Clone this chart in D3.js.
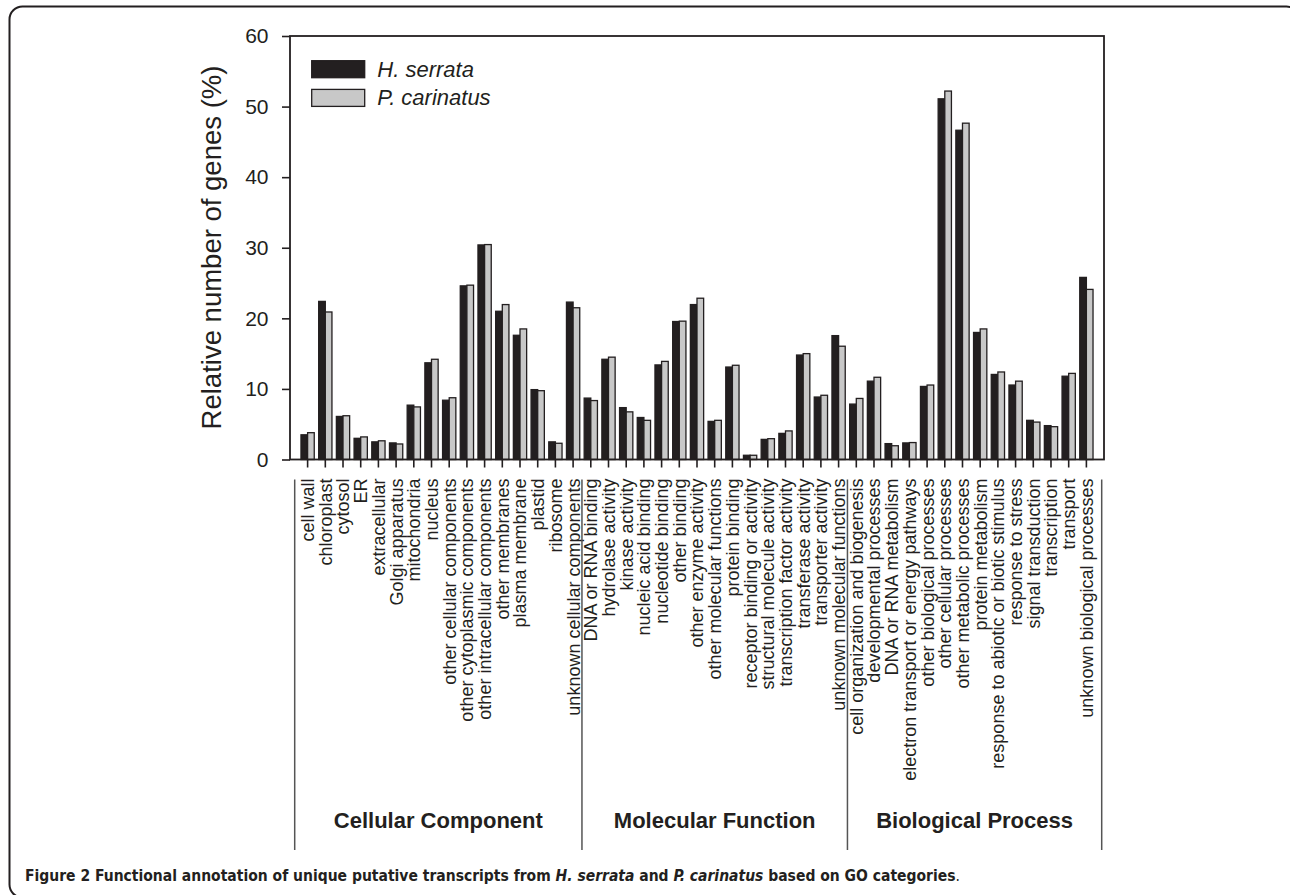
<!DOCTYPE html>
<meta charset="utf-8">
<style>
body { margin: 0; background: #fff; }
text { font-family: "Liberation Sans", Arial, Helvetica, sans-serif; fill: #231f20; }
.axis .domain { display: none; }
.axis line { stroke: #231f20; stroke-width: 1.6; }
</style>
<svg width="1290" height="895"></svg>
<script src="https://d3js.org/d3.v7.min.js"></script>
<script>

// GO categories, one list per group
var groups = ["Cellular Component", "Molecular Function", "Biological Process"];
var ccCats = ["cell wall", "chloroplast", "cytosol", "ER", "extracellular", "Golgi apparatus",
  "mitochondria", "nucleus", "other cellular components", "other cytoplasmic components",
  "other intracellular components", "other membranes", "plasma membrane", "plastid",
  "ribosome", "unknown cellular components"];
var mfCats = ["DNA or RNA binding", "hydrolase activity", "kinase activity", "nucleic acid binding",
  "nucleotide binding", "other binding", "other enzyme activity", "other molecular functions",
  "protein binding", "receptor binding or activity", "structural molecule activity",
  "transcription factor activity", "transferase activity", "transporter activity",
  "unknown molecular functions"];
var bpCats = ["cell organization and biogenesis", "developmental processes", "DNA or RNA metabolism",
  "electron transport or energy pathways", "other biological processes", "other cellular processes",
  "other metabolic processes", "protein metabolism", "response to abiotic or biotic stimulus",
  "response to stress", "signal transduction", "transcription", "transport",
  "unknown biological processes"];

// relative number of genes (%)
var hSerrata = [3.5, 22.4, 6.1, 3.0, 2.5, 2.35, 7.7, 13.7, 8.4, 24.6, 30.4, 21.0, 17.6, 9.9, 2.5, 22.3,
  8.7, 14.2, 7.35, 5.95, 13.4, 19.55, 21.95, 5.4, 13.1, 0.6, 2.85, 3.7, 14.8, 8.85, 17.55,
  7.85, 11.1, 2.25, 2.35, 10.35, 51.1, 46.65, 18.0, 12.05, 10.55, 5.55, 4.8, 11.8, 25.8];
var pCarinatus = [3.8, 20.9, 6.2, 3.2, 2.65, 2.2, 7.45, 14.2, 8.75, 24.7, 30.45, 21.95, 18.5, 9.75, 2.3, 21.5,
  8.35, 14.5, 6.75, 5.55, 13.9, 19.6, 22.85, 5.55, 13.35, 0.6, 2.95, 4.05, 15.0, 9.1, 16.05,
  8.65, 11.65, 1.95, 2.4, 10.55, 52.2, 47.65, 18.5, 12.4, 11.1, 5.3, 4.65, 12.2, 24.1];
var keys = ["H. serrata", "P. carinatus"];
var yTicks = [0, 10, 20, 30, 40, 50, 60];

var cats = ccCats.concat(mfCats, bpCats);
var groupCats = [ccCats, mfCats, bpCats];
var data = cats.map(function(c, i) { return {cat: c, values: [hSerrata[i], pCarinatus[i]]}; });

var svg = d3.select("svg"),
    margin = {top: 36, left: 290},
    width = 814,
    height = 423.5,
    g = svg.append("g").attr("transform", "translate(" + margin.left + "," + margin.top + ")");

// figure border (rounded box, partly off page)
svg.append("rect")
    .attr("x", 9.5).attr("y", 6.5)
    .attr("width", 1290).attr("height", 891)
    .attr("rx", 13)
    .attr("fill", "none")
    .attr("stroke", "#231f20")
    .attr("stroke-width", 2);

var x0 = d3.scaleBand()
    .domain(cats)
    .range([0, width])
    .paddingInner(0.25)
    .paddingOuter(0.62);

var x1 = d3.scaleBand()
    .domain(keys)
    .range([0, x0.bandwidth()]);

var y = d3.scaleLinear()
    .domain([0, 60])
    .range([height, 0]);

var z = d3.scaleOrdinal()
    .domain(keys)
    .range(["#231f20", "#c8c8c8"]);

// bars
g.append("g")
  .selectAll("g")
  .data(data)
  .enter().append("g")
    .attr("transform", function(d) { return "translate(" + x0(d.cat) + ",0)"; })
  .selectAll("rect")
  .data(function(d) { return keys.map(function(k, i) { return {key: k, value: d.values[i]}; }); })
  .enter().append("rect")
    .attr("x", function(d) { return x1(d.key); })
    .attr("y", function(d) { return y(d.value); })
    .attr("width", x1.bandwidth())
    .attr("height", function(d) { return height - y(d.value); })
    .attr("fill", function(d) { return z(d.key); })
    .attr("stroke", "#231f20")
    .attr("stroke-width", 1.3);

// y axis
g.append("g")
    .attr("class", "axis")
    .call(d3.axisLeft(y).tickValues(yTicks).tickSize(8).tickPadding(13.5))
  .selectAll("text")
    .attr("font-size", 21);

// x axis with rotated category labels
g.append("g")
    .attr("class", "axis")
    .attr("transform", "translate(0," + height + ")")
    .call(d3.axisBottom(x0).tickSize(8).tickSizeOuter(0))
  .selectAll("text")
    .attr("font-size", 18)
    .attr("transform", "rotate(-90)")
    .attr("text-anchor", "end")
    .attr("x", -19)
    .attr("y", 0)
    .attr("dy", "0.36em");

// plot frame
g.append("rect")
    .attr("width", width)
    .attr("height", height)
    .attr("fill", "none")
    .attr("stroke", "#231f20")
    .attr("stroke-width", 1.8);

// group separators and labels
var step = x0.step(), bw = x0.bandwidth();
var bounds = [4.7];
groupCats.forEach(function(gc, i) {
  var last = gc[gc.length - 1];
  bounds.push(i < 2 ? x0(last) + bw + (step - bw) / 2 : width - 2.3);
});

g.append("g").selectAll("line")
  .data(bounds)
  .enter().append("line")
    .attr("x1", function(d) { return d; })
    .attr("x2", function(d) { return d; })
    .attr("y1", height + 20)
    .attr("y2", 814)
    .attr("stroke", "#555")
    .attr("stroke-width", 1.5);

g.append("g").selectAll("text")
  .data(groups)
  .enter().append("text")
    .attr("x", function(d, i) { return (bounds[i] + bounds[i + 1]) / 2; })
    .attr("y", 791.5)
    .attr("text-anchor", "middle")
    .attr("font-size", 22)
    .attr("font-weight", "bold")
    .text(function(d) { return d; });

// y title
svg.append("text")
    .attr("transform", "translate(221,247.5) rotate(-90)")
    .attr("text-anchor", "middle")
    .attr("font-size", 27.5)
    .text("Relative number of genes (%)");

// legend
var legend = g.append("g")
    .attr("transform", "translate(21.7,24.7)")
  .selectAll("g")
  .data(keys)
  .enter().append("g")
    .attr("transform", function(d, i) { return "translate(0," + i * 28.7 + ")"; });

legend.append("rect")
    .attr("width", 53)
    .attr("height", 17)
    .attr("fill", z)
    .attr("stroke", "#231f20")
    .attr("stroke-width", 1.3);

legend.append("text")
    .attr("x", 65.6)
    .attr("y", 16)
    .attr("font-size", 22)
    .attr("font-style", "italic")
    .text(function(d) { return d; });

// caption
var cap = svg.append("text")
    .attr("x", 25)
    .attr("y", 881)
    .attr("font-size", 15.5)
    .attr("font-weight", "bold")
    .style("font-family", "'Liberation Sans Narrow', 'DejaVu Sans Condensed', 'Open Sans', sans-serif");
cap.append("tspan").text("Figure 2 ");
cap.append("tspan").attr("font-weight", 600).text("Functional annotation of unique putative transcripts from ");
cap.append("tspan").attr("font-style", "italic").text("H. serrata");
cap.append("tspan").text(" and ");
cap.append("tspan").attr("font-style", "italic").text("P. carinatus");
cap.append("tspan").text(" based on GO categories");
cap.append("tspan").attr("font-weight", "normal").text(".");

</script>
